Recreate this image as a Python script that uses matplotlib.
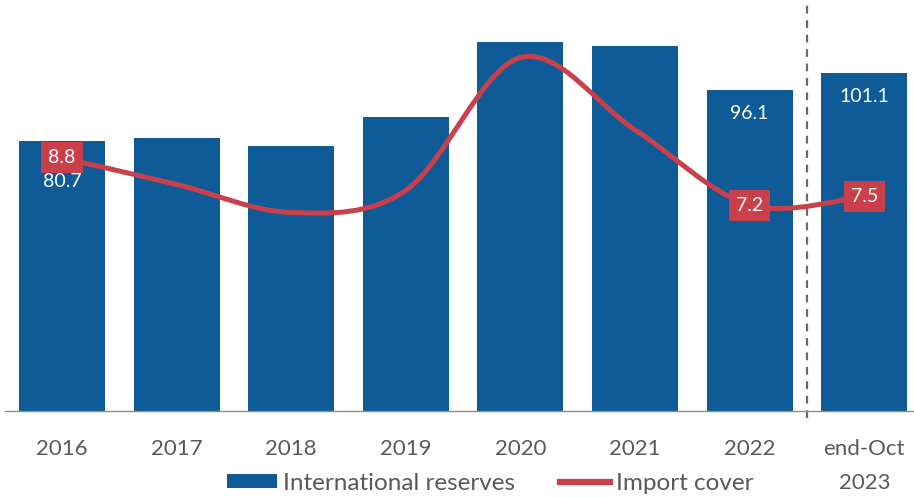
import numpy as np
import matplotlib
matplotlib.use("Agg")
import matplotlib.pyplot as plt
from matplotlib.path import Path
from matplotlib.patches import PathPatch, Patch
from matplotlib.lines import Line2D

plt.rcParams['font.family'] = ['Lato', 'DejaVu Sans']

# Data
categories = ["2016", "2017", "2018", "2019", "2020", "2021", "2022", "end-Oct\n2023"]
reserves = [80.7, 81.6, 79.3, 87.9, 110.3, 109.1, 96.1, 101.1]      # international reserves
import_cover = [8.8, 7.9, 6.95, 7.7, 12.2, 9.75, 7.2, 7.5]          # months of imports
reserve_labelled = [0, 6, 7]
cover_labelled = [0, 6, 7]

BLUE = "#0E5B97"
RED = "#C9404A"
GREY_TXT = "#595959"

fig = plt.figure(figsize=(9.14, 4.97), dpi=100)
ax = fig.add_axes([4.7 / 914, 86 / 497, 1 - 4.7 / 914, 411 / 497])
ax2 = ax.twinx()

x = np.arange(len(categories))
ax.bar(x, reserves, width=0.75, color=BLUE, zorder=2)
ax.set_xlim(-0.5, 7.434)
ax.set_ylim(0, 123.0)
ax2.set_ylim(0.22, 14.15)

# value labels inside the bars
label_drop = {0: 29, 6: 17, 7: 17}
for i in reserve_labelled:
    ax.annotate(f"{reserves[i]:.1f}", xy=(x[i], reserves[i]),
                xytext=(0, -label_drop[i]), textcoords="offset points",
                ha="center", va="center", color="white", fontsize=14, zorder=4)

# smoothed import-cover curve (Catmull-Rom through the yearly values)
pts = np.column_stack([x, import_cover]).astype(float)
n = len(pts)
verts = [pts[0]]
codes = [Path.MOVETO]
for i in range(n - 1):
    p0 = pts[max(i - 1, 0)]
    p1 = pts[i]
    p2 = pts[i + 1]
    p3 = pts[min(i + 2, n - 1)]
    verts += [p1 + (p2 - p0) / 6, p2 - (p3 - p1) / 6, p2]
    codes += [Path.CURVE4] * 3
curve = PathPatch(Path(verts, codes), fill=False, edgecolor=RED, lw=3.6,
                  capstyle="round", joinstyle="round", transform=ax2.transData, zorder=3)
ax2.add_patch(curve)

for i in cover_labelled:
    ax2.annotate(f"{import_cover[i]:.1f}", xy=(x[i], import_cover[i]),
                 ha="center", va="center", color="white", fontsize=14, zorder=5,
                 bbox=dict(boxstyle="square,pad=0.36", facecolor=RED, edgecolor="none"))

# separator between annual figures and the latest month
ax.plot([6.5, 6.5], [-2.1, 123.0], color="#6A6A6A", lw=1.6, dashes=(3.5, 3),
        clip_on=False, zorder=1)

# axes styling
for a in (ax, ax2):
    for s in ("top", "left", "right"):
        a.spines[s].set_visible(False)
    a.set_yticks([])
ax2.spines["bottom"].set_visible(False)
ax.spines["bottom"].set_color("#8C8C8C")
ax.spines["bottom"].set_linewidth(1.0)
ax.set_xticks(x)
ax.set_xticklabels(categories, fontsize=16, color=GREY_TXT, linespacing=1.9)
ax.tick_params(axis="x", length=0, pad=20)

handles = [Patch(facecolor=BLUE, edgecolor="none"), Line2D([0], [0], color=RED, lw=4.5)]
fig.legend(handles, ["International reserves", "Import cover"], loc="center",
           bbox_to_anchor=(490 / 914, 1 - 483 / 497), ncol=2, frameon=False,
           fontsize=17.5, labelcolor=GREY_TXT, handlelength=2.05, handleheight=0.55,
           handletextpad=0.25, columnspacing=1.85, borderpad=0, borderaxespad=0)

fig.savefig("out.png", dpi=100)
